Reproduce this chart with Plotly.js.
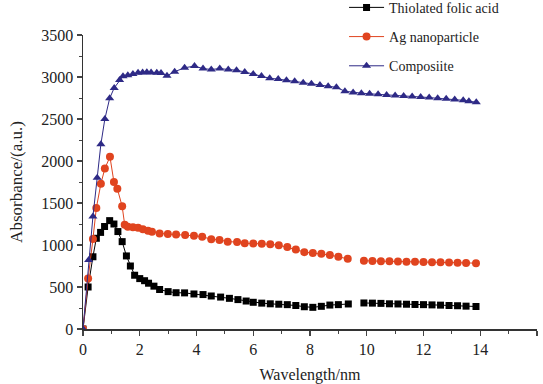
<!DOCTYPE html>
<html>
<head>
<meta charset="utf-8">
<script src="https://cdn.plot.ly/plotly-3.0.1.min.js"></script>
<style>html,body{margin:0;padding:0;background:#fff;}#chart{width:543px;height:384px;}</style>
</head>
<body>
<div id="chart"></div>
<script>
// Thiolated folic acid
const xFolic = [0, 0.18, 0.35, 0.47, 0.62, 0.76, 0.94, 1.09, 1.23, 1.38, 1.53, 1.67, 1.82, 2.0, 2.17, 2.31, 2.5, 2.7, 3.0, 3.28, 3.58, 3.91, 4.23, 4.52, 4.85, 5.16, 5.46, 5.75, 6.0, 6.3, 6.6, 6.9, 7.2, 7.5, 7.8, 8.1, 8.4, 8.7, 9.0, 9.35, 9.6, 9.9, 10.2, 10.5, 10.8, 11.1, 11.4, 11.7, 12.0, 12.3, 12.6, 12.9, 13.2, 13.5, 13.85];
const yFolic = [0, 500, 860, 1080, 1150, 1220, 1290, 1250, 1160, 1040, 870, 750, 640, 600, 575, 545, 510, 470, 445, 432, 430, 417, 410, 393, 380, 365, 350, 333, 318, 308, 300, 295, 290, 280, 265, 258, 270, 285, 290, 298, null, 310, 308, 305, 300, 298, 295, 292, 290, 287, 284, 280, 277, 272, 268];
// Ag nanoparticle
const xAg = [0, 0.18, 0.35, 0.47, 0.63, 0.77, 0.95, 1.09, 1.21, 1.38, 1.47, 1.58, 1.76, 1.94, 2.11, 2.29, 2.43, 2.7, 2.99, 3.28, 3.6, 3.91, 4.2, 4.52, 4.81, 5.1, 5.43, 5.7, 6.0, 6.3, 6.6, 6.9, 7.2, 7.5, 7.8, 8.1, 8.4, 8.7, 9.0, 9.33, 9.6, 9.9, 10.2, 10.5, 10.8, 11.1, 11.4, 11.7, 12.0, 12.3, 12.6, 12.9, 13.2, 13.5, 13.85];
const yAg = [0, 600, 1070, 1440, 1730, 1910, 2050, 1750, 1670, 1460, 1240, 1218, 1210, 1205, 1187, 1170, 1158, 1138, 1130, 1125, 1119, 1110, 1099, 1068, 1060, 1040, 1035, 1020, 1018, 1015, 1008, 998, 975, 945, 915, 905, 895, 880, 860, 835, null, 812, 810, 808, 806, 804, 802, 800, 798, 796, 794, 792, 790, 787, 784];
// Composite
const xComp = [0, 0.2, 0.35, 0.5, 0.63, 0.77, 0.94, 1.1, 1.29, 1.41, 1.58, 1.76, 1.94, 2.1, 2.25, 2.4, 2.6, 2.75, 2.96, 3.23, 3.58, 3.93, 4.23, 4.52, 4.82, 5.12, 5.41, 5.7, 6.0, 6.29, 6.58, 6.88, 7.17, 7.46, 7.76, 8.05, 8.35, 8.64, 8.93, 9.23, 9.52, 9.81, 10.1, 10.4, 10.7, 11.0, 11.3, 11.6, 11.9, 12.2, 12.5, 12.8, 13.1, 13.4, 13.6, 13.86];
const yComp = [0, 820, 1340, 1800, 2200, 2500, 2746, 2870, 2964, 3010, 3020, 3035, 3050, 3055, 3058, 3055, 3052, 3048, 3015, 3063, 3110, 3130, 3100, 3090, 3100, 3090, 3080, 3060, 3035, 3012, 2985, 2975, 2960, 2950, 2933, 2920, 2905, 2890, 2877, 2830, 2815, 2808, 2800, 2795, 2786, 2780, 2774, 2768, 2762, 2755, 2748, 2740, 2732, 2722, 2712, 2700];

const names = ["Thiolated folic acid", "Ag nanoparticle", "Composiite"];
const xTickVals = [0, 2, 4, 6, 8, 10, 12, 14, 16];
const yTickVals = [0, 500, 1000, 1500, 2000, 2500, 3000, 3500];

const traces = [
  {x: xFolic, y: yFolic, name: names[0], legendgroup: "a", type: "scatter", mode: "lines+markers",
   line: {color: "#000000", width: 1}, marker: {symbol: "square", size: 7, color: "#000000"}},
  {x: xAg, y: yAg, name: names[1], legendgroup: "b", type: "scatter", mode: "lines+markers",
   line: {color: "#e0441f", width: 1}, marker: {symbol: "circle", size: 8, color: "#e0441f"}},
  {x: xComp, y: yComp, name: names[2], legendgroup: "c", type: "scatter", mode: "lines+markers",
   line: {color: "#2e2a86", width: 1}, marker: {symbol: "triangle-up", size: 8, color: "#2e2a86"}}
];

const SERIF = "Liberation Serif";
const axisFont = {family: SERIF, size: 16, color: "#222"};
const layout = {
  width: 543, height: 384,
  margin: {l: 83, r: 6, t: 35, b: 55, autoexpand: false},
  paper_bgcolor: "#fff", plot_bgcolor: "#fff",
  font: {family: SERIF, color: "#222"},
  showlegend: true,
  legend: {x: 0.575, y: 1.147, xanchor: "left", yanchor: "top", tracegroupgap: 8, itemwidth: 35,
           font: {family: SERIF, size: 14, color: "#222"},
           bgcolor: "rgba(0,0,0,0)"},
  xaxis: {range: [0, 16], tickvals: xTickVals, ticks: "outside", ticklen: 5, tickwidth: 1.2,
          minor: {dtick: 1, ticks: "outside", ticklen: 3, tickwidth: 1},
          showline: true, linecolor: "#333", linewidth: 1.5, showgrid: false, zeroline: false,
          automargin: false, tickfont: axisFont,
          title: {text: "Wavelength/nm", font: {family: SERIF, size: 16, color: "#222"}}},
  yaxis: {range: [0, 3500], tickvals: yTickVals, ticks: "outside", ticklen: 5, tickwidth: 1.2,
          minor: {dtick: 250, ticks: "outside", ticklen: 3, tickwidth: 1},
          showline: true, linecolor: "#333", linewidth: 1.5, showgrid: false, zeroline: false,
          automargin: true, tickfont: axisFont,
          title: {text: "Absorbance/(a.u.)", standoff: 14, font: {family: SERIF, size: 17, color: "#222"}}}
};
Plotly.newPlot("chart", traces, layout, {displayModeBar: false, staticPlot: true});
</script>
</body>
</html>
